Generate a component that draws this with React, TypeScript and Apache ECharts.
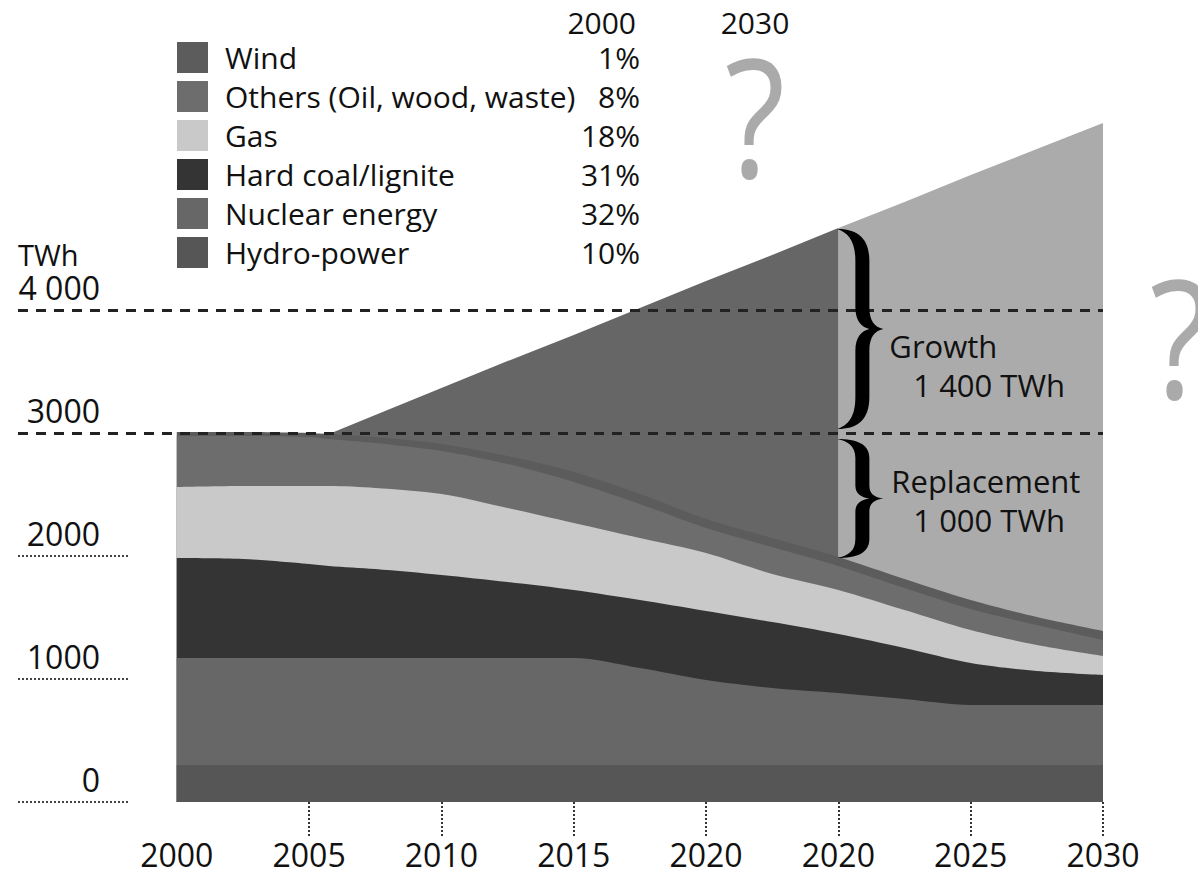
import React, { useEffect, useRef } from "react";
import * as echarts from "echarts";

// ---- data (positions along the evenly spaced axis slots, 0 = "2000" ... 7 = "2030") ----
const POS = [0, 0.5, 1, 1.15, 1.5, 2, 2.5, 3, 3.5, 4, 4.5, 5, 5.5, 6, 6.5, 7];
const X_LABELS = ["2000", "2005", "2010", "2015", "2020", "2020", "2025", "2030"];
const Y_TICKS = [0, 1000, 2000, 3000, 4000];
const Y_LABELS = ["0", "1000", "2000", "3000", "4 000"];

// TWh per source (stacked bottom-up)
const HYDRO = [300, 300, 300, 300, 300, 300, 300, 300, 300, 300, 300, 300, 300, 300, 300, 300];
const NUCLEAR = [871, 871, 871, 871, 871, 871, 871, 871, 789, 692, 627, 586, 537, 489, 489, 489];
const COAL = [813, 805, 764, 748, 723, 675, 618, 553, 553, 561, 536, 480, 415, 341, 276, 244];
const GAS = [577, 593, 634, 650, 659, 658, 601, 544, 504, 471, 391, 358, 309, 268, 211, 154];
const OTHERS = [415, 407, 398, 382, 366, 350, 358, 334, 277, 204, 219, 195, 179, 171, 163, 130];
const WIND = [32, 32, 33, 41, 48, 57, 65, 81, 81, 73, 73, 73, 73, 73, 65, 73];
// total demand line (starts where growth begins)
const DEMAND = [null, null, null, 2992, 3146, 3366, 3585, 3797, 4016, 4236, 4447, 4667, 4878, 5098, 5309, 5520];
const SPLIT_INDEX = 11; // position 5 = second "2020"

// legend (top to bottom) and share in 2000
const LEGEND_NAMES = ["Wind", "Others (Oil, wood, waste)", "Gas", "Hard coal/lignite", "Nuclear energy", "Hydro-power"];
const SHARE_2000 = [1, 8, 18, 31, 32, 10];

const FONT = "Open Sans";

const BRACE_D =
  "M0 0 C19 0 32 8 32 32 L32 78 C32 92 37 98 46 100 C37 102 32 108 32 122 L32 168 C32 192 19 200 0 200 C11 196 18 188 18 168 L18 122 C18 108 24 102 32 100 C24 98 18 92 18 78 L18 32 C18 12 11 4 0 0 Z";
echarts.graphic.registerShape("brace", echarts.graphic.extendPath(BRACE_D, {}));

export default function App() {
  const ref = useRef<HTMLDivElement>(null);

  useEffect(() => {
    if (!ref.current) return;
    const chart = echarts.init(ref.current, null, { renderer: "svg" });

    const layers = [
      { name: "Hydro-power", data: HYDRO, color: "#565656" },
      { name: "Nuclear energy", data: NUCLEAR, color: "#676767" },
      { name: "Hard coal/lignite", data: COAL, color: "#343434" },
      { name: "Gas", data: GAS, color: "#c9c9c9" },
      { name: "Others (Oil, wood, waste)", data: OTHERS, color: "#6d6d6d" },
      { name: "Wind", data: WIND, color: "#5c5c5c" },
    ];
    const cum: number[][] = [];
    layers.forEach((l, li) => {
      cum.push(l.data.map((v, k) => v + (li > 0 ? cum[li - 1][k] : 0)));
    });
    const windTop = cum[cum.length - 1];

    const areaSeries = (name: string, pts: number[][], color: string, smooth: number | boolean, extra: any = {}) => ({
      type: "line",
      name,
      data: pts,
      smooth,
      showSymbol: false,
      symbol: "none",
      lineStyle: { width: 0, color },
      itemStyle: { color },
      areaStyle: { color, opacity: 1, origin: "start" },
      silent: true,
      ...extra,
    });

    const gap1 = POS.map((p, k) => [p, DEMAND[k]]).filter((d, k) => d[1] != null && k <= SPLIT_INDEX) as number[][];
    const gap2 = POS.map((p, k) => [p, DEMAND[k]]).filter((d, k) => d[1] != null && k >= SPLIT_INDEX) as number[][];

    const series: any[] = [
      areaSeries("growth-after", gap2, "#ababab", false),
      areaSeries("growth-before", gap1, "#666666", false),
    ];
    for (let li = layers.length - 1; li >= 0; li--) {
      const pts = POS.map((p, k) => [p, cum[li][k]]);
      const extra: any = {};
      if (li === 0) {
        extra.markLine = {
          silent: true,
          symbol: "none",
          label: { show: false },
          lineStyle: { type: [10, 8], color: "#222", width: 3 },
          data: [{ yAxis: 3000 }, { yAxis: 4000 }],
        };
      }
      series.push(areaSeries(layers[li].name, pts, layers[li].color, 0.3, extra));
    }

    const option: any = {
      animation: false,
      backgroundColor: "#ffffff",
      textStyle: { fontFamily: FONT },
      grid: { left: 18, right: 95, top: 802 - 5.6 * 123, bottom: 72 },
      xAxis: {
        type: "value",
        min: -1.2,
        max: 7,
        splitLine: { show: false },
        axisLine: { show: false, onZero: false },
        axisTick: {
          show: true,
          customValues: [1, 2, 3, 4, 5, 6, 7],
          length: 34,
          lineStyle: { type: "dotted", color: "#333", width: 2 },
        },
        axisLabel: {
          customValues: [0, 1, 2, 3, 4, 5, 6, 7],
          formatter: (v: number) => X_LABELS[Math.round(v)] ?? "",
          fontFamily: FONT,
          fontSize: 32,
          color: "#111",
          margin: 36,
          lineHeight: 32,
        },
      },
      yAxis: {
        type: "value",
        min: 0,
        max: 5600,
        splitLine: { show: false },
        axisLine: { show: false, onZero: false },
        axisTick: {
          show: true,
          inside: true,
          customValues: [0, 1000, 2000],
          length: 110,
          lineStyle: { type: "dotted", color: "#444", width: 2 },
        },
        axisLabel: {
          inside: true,
          align: "right",
          customValues: Y_TICKS,
          formatter: (v: number) => Y_LABELS[Y_TICKS.indexOf(v)] ?? "",
          fontFamily: FONT,
          fontSize: 32,
          color: "#111",
          margin: 82,
          verticalAlign: "bottom",
          padding: [0, 0, 7, 0],
        },
      },
      legend: {
        data: LEGEND_NAMES,
        orient: "vertical",
        left: 177,
        top: 42,
        padding: 0,
        icon: "rect",
        itemWidth: 31,
        itemHeight: 31,
        itemGap: 8,
        selectedMode: false,
        itemStyle: { borderWidth: 0 },
        textStyle: {
          fontFamily: FONT,
          fontSize: 30,
          lineHeight: 31,
          color: "#111",
          rich: {
            g: { width: 12, lineHeight: 31, fontSize: 30, fontFamily: FONT },
            n: { width: 365, lineHeight: 31, fontSize: 30, fontFamily: FONT, color: "#111" },
            p: { width: 50, align: "right", lineHeight: 31, fontSize: 30, fontFamily: FONT, color: "#111" },
          },
        },
        formatter: (name: string) => {
          const i = LEGEND_NAMES.indexOf(name);
          return `{g| }{n|${name}}{p|${SHARE_2000[i]}%}`;
        },
      },
      series,
    };
    chart.setOption(option);

    // annotations anchored to data positions
    const px = (x: number, y: number) => chart.convertToPixel({ xAxisIndex: 0, yAxisIndex: 0 }, [x, y]) as number[];
    const top = px(POS[SPLIT_INDEX], DEMAND[SPLIT_INDEX] as number);
    const mid = px(POS[SPLIT_INDEX], 3000);
    const bot = px(POS[SPLIT_INDEX], windTop[SPLIT_INDEX]);
    const bx = top[0] - 1;
    const upTop = top[1] + 1;
    const upH = mid[1] - 4 - upTop;
    const loTop = mid[1] + 6;
    const loH = bot[1] + 1 - loTop;
    const upTip = upTop + upH / 2;
    const loTip = loTop + loH / 2;
    const txt = (text: string, x: number, y: number, size: number, align: string, fill = "#111", sx = 1) => ({
      type: "text",
      x,
      y,
      scaleX: sx,
      silent: true,
      style: { text, fill, font: `${size}px "${FONT}"`, textAlign: align, textVerticalAlign: "middle" },
      z: 10,
    });

    chart.setOption({
      graphic: [
        { type: "brace", x: bx, y: upTop, scaleX: 1, scaleY: upH / 200, style: { fill: "#000" }, z: 10, silent: true },
        { type: "brace", x: bx, y: loTop, scaleX: 1, scaleY: loH / 200, style: { fill: "#000" }, z: 10, silent: true },
        txt("Growth", bx + 52, upTip + 17, 31, "left"),
        txt("1 400 TWh", bx + 76, upTip + 56, 31, "left"),
        txt("Replacement", bx + 54, loTip - 17, 31, "left"),
        txt("1 000 TWh", bx + 76, loTip + 22, 31, "left"),
        txt("TWh", 18, 254, 29, "left"),
        txt("2000", 636, 22, 30, "right"),
        txt("2030", 755, 22, 30, "center"),
        txt("?", 755, 114, 165, "center", "#aaaaaa", 0.85),
        txt("?", 1180, 335, 165, "center", "#aaaaaa", 0.85),
      ],
    });

    return () => chart.dispose();
  }, []);

  return (
    <div
      ref={ref}
      style={{ position: "fixed", left: 0, top: 0, width: 1198, height: 874, background: "#fff" }}
    />
  );
}
